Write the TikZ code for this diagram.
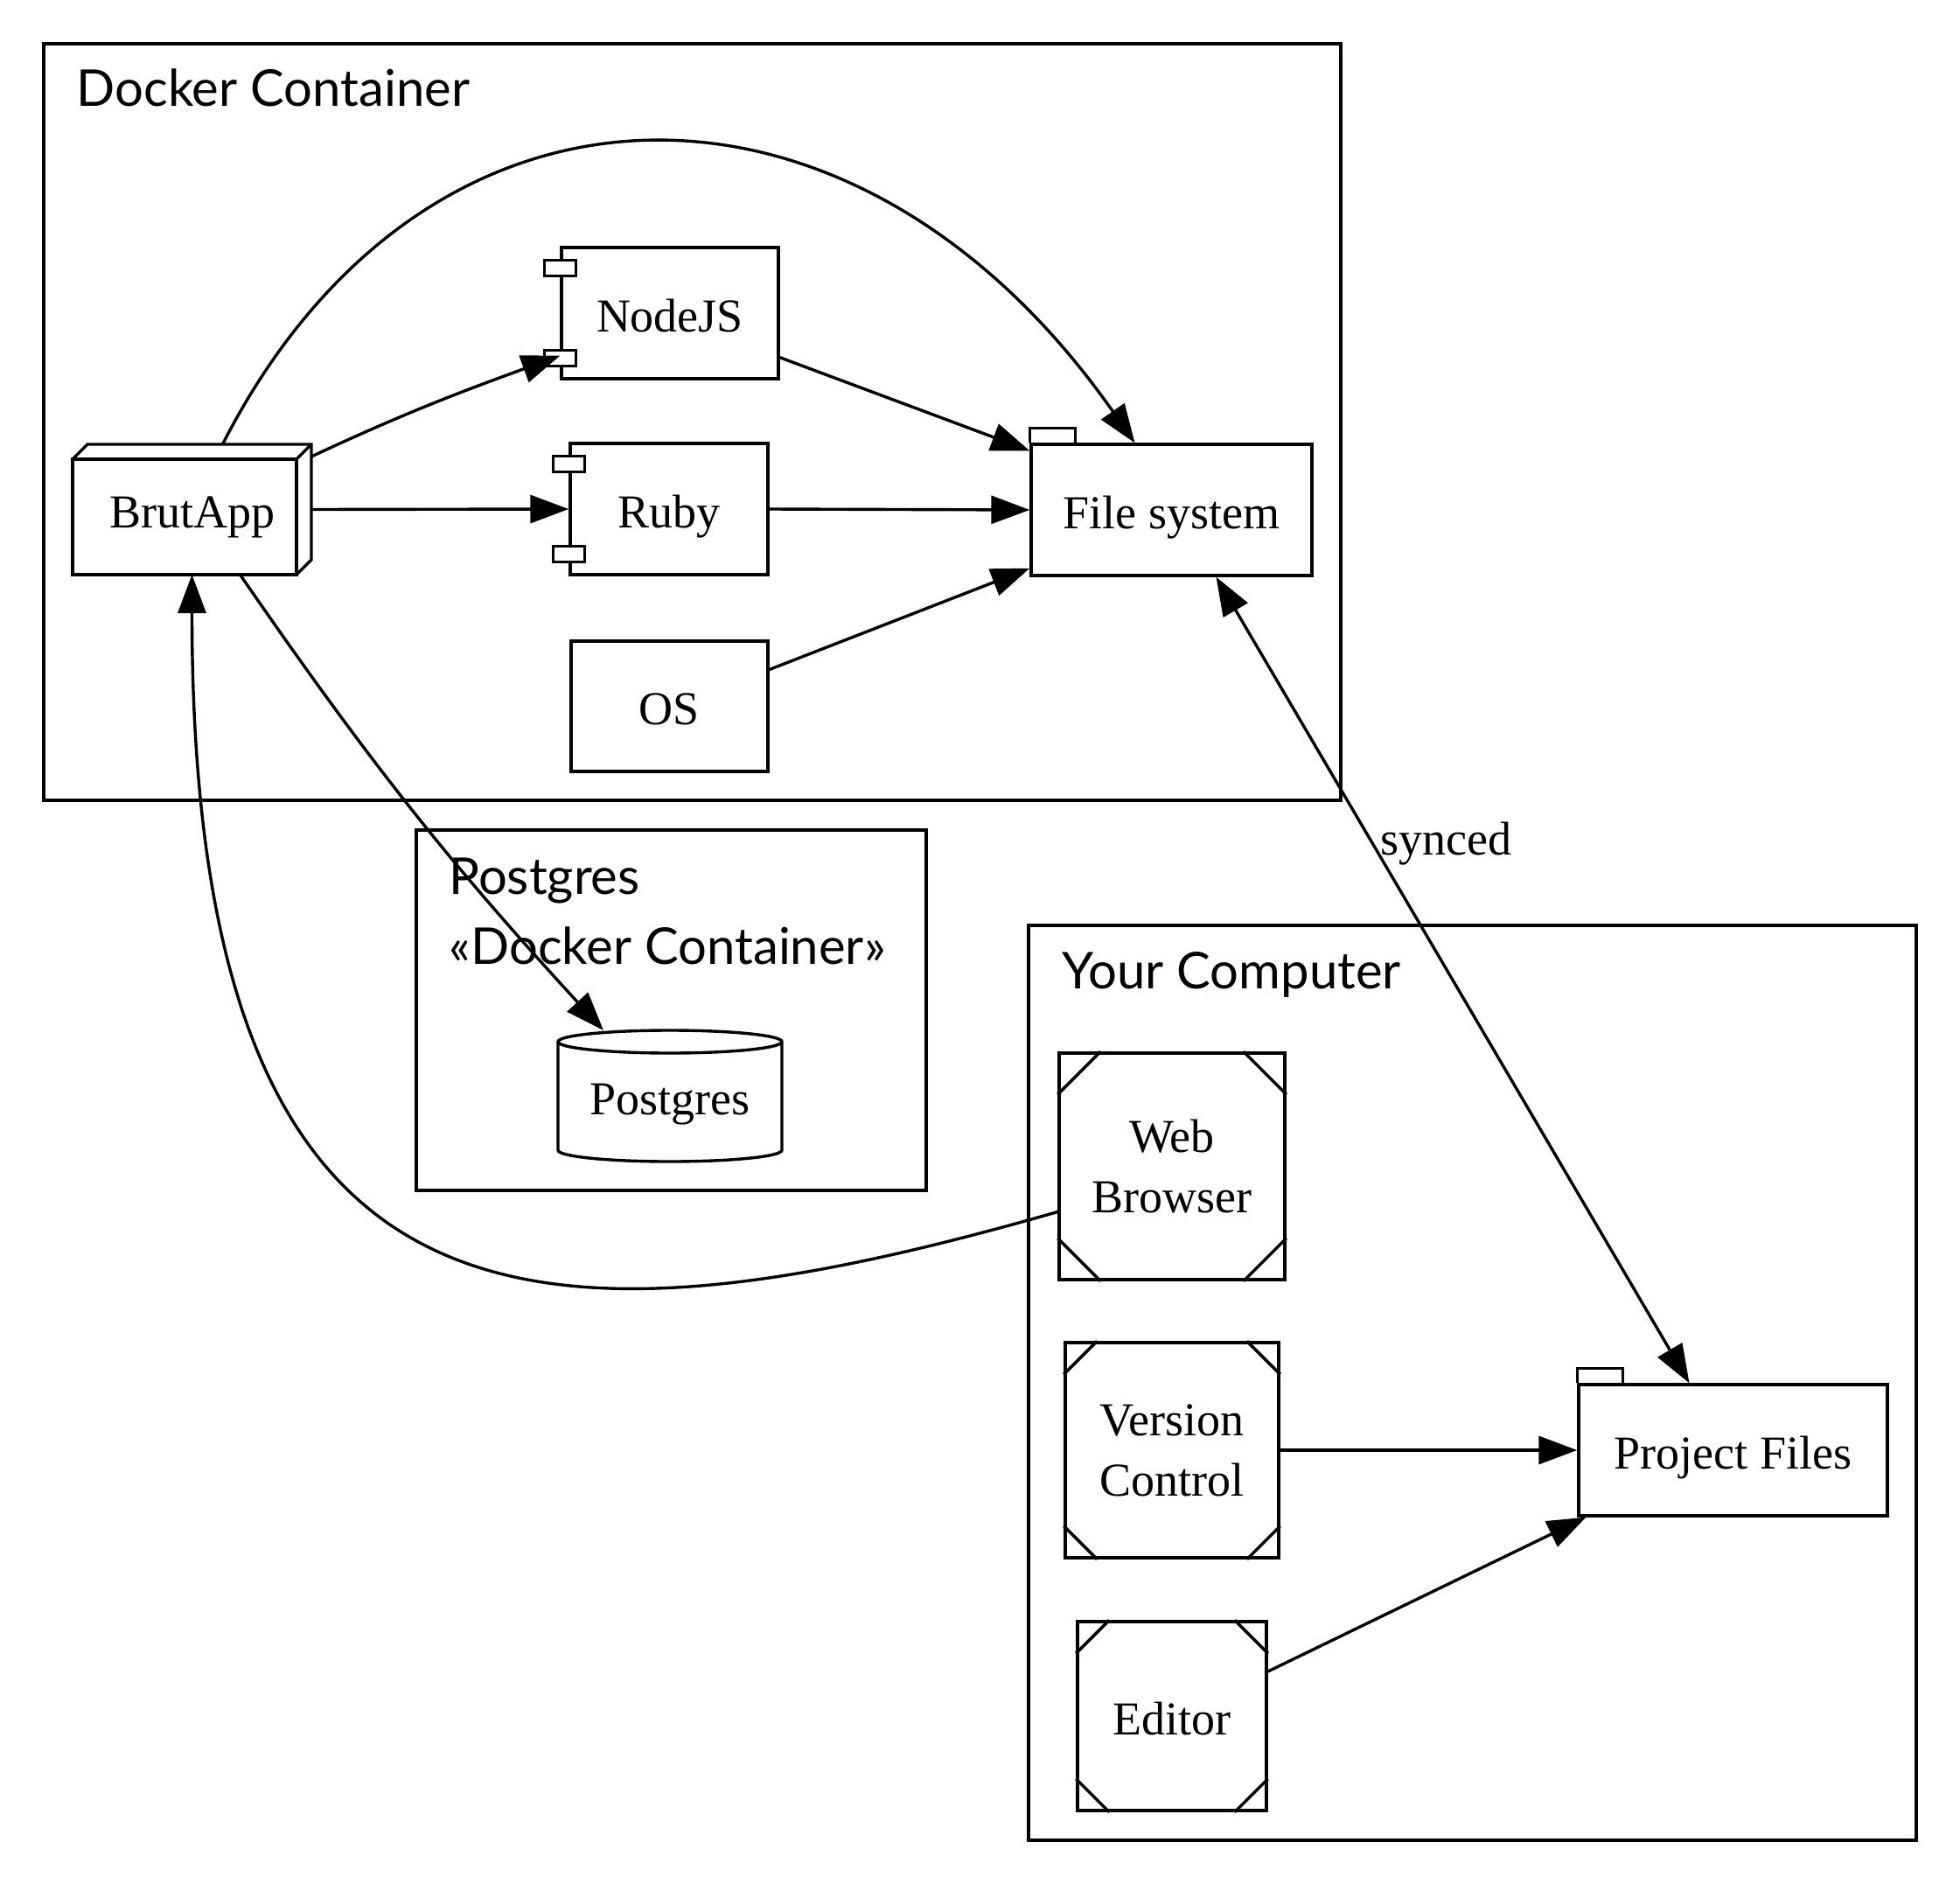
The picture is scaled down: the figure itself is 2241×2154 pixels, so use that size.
\documentclass[tikz,border=0pt]{standalone}
\usepackage{fontspec}
\setmainfont{Liberation Serif}
\newfontfamily\grpfont{Lato}
\usetikzlibrary{arrows.meta}

% folder tab on top of a node
\newcommand{\foldertab}[1]{\draw (#1.north west) -- ++(0pt,17pt) -- ++(52pt,0pt) -- ++(0pt,-17pt);}
% the two small plugs of a component
\newcommand{\plugs}[1]{%
  \draw[fill=white] ([xshift=-18pt,yshift=-16pt]#1.north west) rectangle ++(36pt,-18pt);
  \draw[fill=white] ([xshift=-18pt,yshift=16pt]#1.south west) rectangle ++(36pt,18pt);}
% cut corners of an Msquare
\newcommand{\cutcorners}[2]{%
  \draw ([yshift=-#2]#1.north west) -- ([xshift=#2]#1.north west);
  \draw ([yshift=-#2]#1.north east) -- ([xshift=-#2]#1.north east);
  \draw ([yshift=#2]#1.south west) -- ([xshift=#2]#1.south west);
  \draw ([yshift=#2]#1.south east) -- ([xshift=-#2]#1.south east);}

\begin{document}
\begin{tikzpicture}[x=1pt,y=-1pt,line width=3.4pt,
  every node/.style={inner sep=0pt,font=\fontsize{54}{69}\selectfont},
  elem/.style={draw,align=center},
  bare/.style={outer sep=0pt},
  oneline/.style={text height=46pt,text depth=4pt},
  grplabel/.style={anchor=base west,font=\grpfont\fontsize{58}{80}\selectfont},
  link/.style={-{Triangle[length=44pt,width=32pt]}},
  twoway/.style={{Triangle[length=44pt,width=32pt]}-{Triangle[length=44pt,width=32pt]}}]
  \useasboundingbox (0,0) rectangle (2241,2154);

  % clusters
  \draw (50,50) rectangle (1533,915);
  \node[grplabel] (dockerlbl) at (86,122) {Docker Container};
  \draw (476,949) rectangle (1059,1361);
  \node[grplabel] (pglbl) at (512,1022) {Postgres};
  \node[grplabel] (pgstereo) at (512,1102) {«Docker Container»};
  \draw (1176,1058) rectangle (2191,2104);
  \node[grplabel] (pclbl) at (1213,1130) {Your Computer};

  % docker container
  \node[bare,oneline,minimum width=273pt,minimum height=149pt] (brut) at (219.5,582.5) {BrutApp};
  \draw (brut.south west) rectangle ([xshift=-17pt,yshift=-17pt]brut.north east);
  \draw ([yshift=-17pt]brut.north west) -- ([xshift=17pt]brut.north west) -- (brut.north east)
    -- ([yshift=17pt]brut.south east) -- ([xshift=-17pt]brut.south east);
  \draw ([xshift=-17pt,yshift=-17pt]brut.north east) -- (brut.north east);
  \node[elem,oneline,minimum width=248pt,minimum height=150pt] (nodejs) at (766,358) {NodeJS};
  \plugs{nodejs}
  \node[elem,oneline,minimum width=226pt,minimum height=150pt] (ruby) at (765,582) {Ruby};
  \plugs{ruby}
  \node[elem,oneline,minimum width=225pt,minimum height=149pt] (os) at (765.5,807.5) {OS};
  \node[elem,oneline,minimum width=321pt,minimum height=150pt] (fs) at (1339.5,583) {File system};
  \foldertab{fs}

  % postgres
  \node[bare,oneline,minimum width=256pt,minimum height=150pt] (pg) at (766,1253) {Postgres};
  \draw ([yshift=-13pt]pg.north west) -- ([yshift=13pt]pg.south west)
    arc[start angle=180,end angle=360,x radius=128pt,y radius=13pt]
    -- ([yshift=-13pt]pg.north east)
    arc[start angle=0,end angle=180,x radius=128pt,y radius=13pt]
    arc[start angle=180,end angle=360,x radius=128pt,y radius=13pt];

  % your computer
  \node[elem,minimum width=258pt,minimum height=259pt] (browser) at (1340,1333.5) {Web\\Browser};
  \cutcorners{browser}{49pt}
  \node[elem,minimum width=244pt,minimum height=246pt] (vc) at (1340,1658) {Version\\Control};
  \cutcorners{vc}{38pt}
  \node[elem,oneline,minimum width=216pt,minimum height=216pt] (editor) at (1340,1962) {Editor};
  \cutcorners{editor}{38pt}
  \node[elem,oneline,minimum width=353pt,minimum height=150pt] (pf) at (1981.5,1658) {Project Files};
  \foldertab{pf}

  % connectors
  \draw[link] ([yshift=-14pt]brut.north east) to[out=25,in=200] ([yshift=28pt]nodejs.south west);
  \draw[link] (brut.east) -- (ruby.west);
  \draw[link] ([xshift=35pt]brut.north) .. controls +(63:511pt) and +(125:559pt) .. ([xshift=-42pt]fs.north);
  \draw[link] ([yshift=26pt]nodejs.south east) -- ([yshift=-9pt]fs.north west);
  \draw[link] (ruby.east) -- (fs.west);
  \draw[link] ([yshift=42pt]os.east) -- ([yshift=10pt]fs.south west);
  \draw[link] ([xshift=55pt]brut.south) to[bend right=4] ([xshift=-76pt]pg.north);
  \draw[link] ([yshift=-52pt]browser.west) .. controls +(196:640pt) and +(270:880pt) .. (brut.south);
  \draw[twoway] ([xshift=51pt]fs.south) -- node[pos=0.345,anchor=base west] (synced) {synced} ([xshift=-50pt]pf.north);
  \draw[link] (vc.east) -- (pf.west);
  \draw[link] ([yshift=51pt]editor.east) -- ([xshift=10pt]pf.south west);
\end{tikzpicture}
\end{document}
